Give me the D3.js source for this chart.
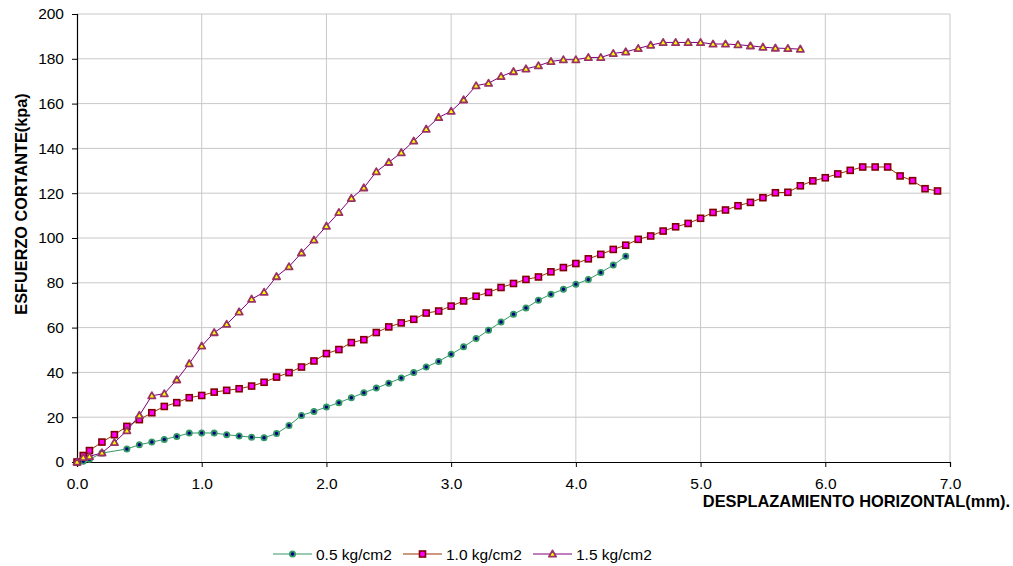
<!DOCTYPE html>
<html>
<head>
<meta charset="utf-8">
<script src="https://cdn.jsdelivr.net/npm/d3@7"></script>
<style>
  html, body { margin: 0; padding: 0; background: #fff; }
  svg { display: block; font-family: "Liberation Sans", Arial, sans-serif; }
</style>
</head>
<body>
<svg id="chart" width="1013" height="566"></svg>
<script>
// ---- data ----
const xTicks = [0, 1, 2, 3, 4, 5, 6, 7];
const yTicks = [0, 20, 40, 60, 80, 100, 120, 140, 160, 180, 200];
const seriesNames = ["0.5 kg/cm2", "1.0 kg/cm2", "1.5 kg/cm2"];

const x05 = [0, 0.05, 0.1, 0.2, 0.4, 0.5, 0.6, 0.7, 0.8, 0.9, 1.0, 1.1, 1.2, 1.3, 1.4, 1.5, 1.6, 1.7, 1.8, 1.9, 2.0, 2.1, 2.2, 2.3, 2.4, 2.5, 2.6, 2.7, 2.8, 2.9, 3.0, 3.1, 3.2, 3.3, 3.4, 3.5, 3.6, 3.7, 3.8, 3.9, 4.0, 4.1, 4.2, 4.3, 4.4];
const y05 = [0, 0.3, 1.2, 4.0, 5.8, 7.7, 8.9, 10.1, 11.4, 12.9, 13.0, 12.9, 12.2, 11.6, 11.1, 10.8, 12.7, 16.3, 20.8, 22.6, 24.5, 26.5, 28.7, 30.9, 33.0, 35.2, 37.5, 39.9, 42.4, 44.9, 48.1, 51.4, 55.1, 58.8, 62.5, 66.0, 68.8, 72.2, 74.9, 77.1, 79.4, 81.5, 84.6, 87.9, 91.9];

const x10 = [0, 0.05, 0.1, 0.2, 0.3, 0.4, 0.5, 0.6, 0.7, 0.8, 0.9, 1.0, 1.1, 1.2, 1.3, 1.4, 1.5, 1.6, 1.7, 1.8, 1.9, 2.0, 2.1, 2.2, 2.3, 2.4, 2.5, 2.6, 2.7, 2.8, 2.9, 3.0, 3.1, 3.2, 3.3, 3.4, 3.5, 3.6, 3.7, 3.8, 3.9, 4.0, 4.1, 4.2, 4.3, 4.4, 4.5, 4.6, 4.7, 4.8, 4.9, 5.0, 5.1, 5.2, 5.3, 5.4, 5.5, 5.6, 5.7, 5.8, 5.9, 6.0, 6.1, 6.2, 6.3, 6.4, 6.5, 6.6, 6.7, 6.8, 6.9];
const y10 = [0, 2.9, 5.1, 8.9, 12.2, 15.9, 18.9, 22.0, 24.8, 26.5, 28.7, 29.7, 31.2, 32.0, 32.7, 33.9, 35.6, 37.9, 39.9, 42.4, 45.1, 48.4, 50.2, 53.3, 54.6, 57.8, 60.3, 62.1, 63.7, 66.5, 67.4, 69.6, 71.9, 74.0, 75.7, 77.9, 79.7, 81.5, 82.6, 84.9, 86.8, 88.6, 90.7, 92.7, 94.9, 96.8, 99.4, 100.9, 103.1, 105.0, 106.5, 108.8, 111.4, 112.5, 114.4, 115.9, 118.0, 120.2, 120.4, 123.3, 125.5, 126.9, 128.6, 130.2, 131.7, 131.7, 131.7, 127.7, 125.6, 122.0, 121.0];

const x15 = [0, 0.05, 0.1, 0.2, 0.3, 0.4, 0.5, 0.6, 0.7, 0.8, 0.9, 1.0, 1.1, 1.2, 1.3, 1.4, 1.5, 1.6, 1.7, 1.8, 1.9, 2.0, 2.1, 2.2, 2.3, 2.4, 2.5, 2.6, 2.7, 2.8, 2.9, 3.0, 3.1, 3.2, 3.3, 3.4, 3.5, 3.6, 3.7, 3.8, 3.9, 4.0, 4.1, 4.2, 4.3, 4.4, 4.5, 4.6, 4.7, 4.8, 4.9, 5.0, 5.1, 5.2, 5.3, 5.4, 5.5, 5.6, 5.7, 5.8];
const y15 = [0, 2.0, 2.5, 4.1, 8.7, 14.0, 20.8, 29.6, 30.5, 36.7, 43.9, 51.8, 57.8, 61.5, 67.0, 72.7, 75.8, 82.8, 87.2, 93.4, 99.1, 105.3, 111.4, 117.7, 122.4, 129.6, 133.8, 138.1, 143.3, 148.6, 153.8, 156.6, 161.7, 168.0, 169.1, 172.1, 174.3, 175.5, 176.9, 178.8, 179.6, 179.6, 180.6, 180.6, 182.4, 183.1, 184.6, 186.1, 187.3, 187.3, 187.3, 187.3, 186.6, 186.6, 186.3, 185.8, 185.2, 184.8, 184.6, 184.3];

// ---- layout ----
const svg = d3.select("#chart");
const pLeft = 77, pRight = 950, pTop = 14, pBottom = 462;
const x = d3.scaleLinear().domain([0, 7]).range([pLeft, pRight]);
const y = d3.scaleLinear().domain([0, 200]).range([pBottom, pTop]);

const styles = [
  { line: "#339966", fill: "#000080", stroke: "#339966", shape: "circle" },
  { line: "#993300", fill: "#FF00FF", stroke: "#800000", shape: "square" },
  { line: "#800080", fill: "#FFFF00", stroke: "#993366", shape: "triangle" }
];

// gridlines
const grid = svg.append("g");
grid.selectAll("line.h").data(yTicks.filter(d => d > 0)).join("line")
  .attr("x1", pLeft).attr("x2", pRight)
  .attr("y1", d => y(d)).attr("y2", d => y(d))
  .attr("stroke", "#c8c8c8").attr("stroke-width", 1);
grid.selectAll("line.v").data(xTicks.filter(d => d > 0)).join("line")
  .attr("y1", pTop).attr("y2", pBottom)
  .attr("x1", d => x(d)).attr("x2", d => x(d))
  .attr("stroke", "#c8c8c8").attr("stroke-width", 1);

// axes
const yAxis = svg.append("g").attr("transform", `translate(${pLeft},0)`)
  .call(d3.axisLeft(y).tickValues(yTicks).tickSize(5).tickPadding(8).tickFormat(d3.format("d")));
const xAxis = svg.append("g").attr("transform", `translate(0,${pBottom})`)
  .call(d3.axisBottom(x).tickValues(xTicks).tickSize(5).tickPadding(11).tickFormat(d3.format(".1f")));
[yAxis, xAxis].forEach(a => {
  a.select(".domain").attr("stroke", "#000").attr("stroke-width", 1.2);
  a.selectAll(".tick line").attr("stroke", "#000");
  a.selectAll(".tick text").attr("font-size", 15.5).attr("fill", "#000")
    .attr("font-family", "'Liberation Sans', Arial, sans-serif");
});

// axis titles
svg.append("text")
  .attr("transform", "translate(27,204) rotate(-90)")
  .attr("text-anchor", "middle")
  .attr("font-size", 16.3).attr("font-weight", "bold")
  .text("ESFUERZO CORTANTE(kpa)");
svg.append("text")
  .attr("x", 1010).attr("y", 507)
  .attr("text-anchor", "end")
  .attr("font-size", 16.4).attr("font-weight", "bold")
  .text("DESPLAZAMIENTO HORIZONTAL(mm).");

// markers
function drawMarker(g, shape, st, cx, cy) {
  if (shape === "circle") {
    g.append("circle").attr("cx", cx).attr("cy", cy).attr("r", 2.6)
      .attr("fill", st.fill).attr("stroke", st.stroke).attr("stroke-width", 1.8);
  } else if (shape === "square") {
    g.append("rect").attr("x", cx - 3).attr("y", cy - 3).attr("width", 6).attr("height", 6)
      .attr("fill", st.fill).attr("stroke", st.stroke).attr("stroke-width", 1.6);
  } else {
    const s = 3.6;
    g.append("path")
      .attr("d", `M${cx},${cy - s}L${cx + s},${cy + s * 0.75}L${cx - s},${cy + s * 0.75}Z`)
      .attr("fill", st.fill).attr("stroke", st.stroke).attr("stroke-width", 1.8)
      .attr("stroke-linejoin", "round");
  }
}

const allSeries = [[x05, y05], [x10, y10], [x15, y15]];
const line = d3.line().x(d => x(d[0])).y(d => y(d[1]));
allSeries.forEach(([xs, ys], i) => {
  const pts = xs.map((v, k) => [v, ys[k]]);
  const g = svg.append("g");
  g.append("path").datum(pts).attr("d", line)
    .attr("fill", "none").attr("stroke", styles[i].line).attr("stroke-width", 1);
  pts.forEach(p => drawMarker(g, styles[i].shape, styles[i], x(p[0]), y(p[1])));
});

// legend
const legendY = 554;
const legendX = [273, 403, 533];
seriesNames.forEach((name, i) => {
  const g = svg.append("g");
  const lx = legendX[i];
  g.append("line").attr("x1", lx).attr("x2", lx + 39).attr("y1", legendY).attr("y2", legendY)
    .attr("stroke", styles[i].line).attr("stroke-width", 1);
  drawMarker(g, styles[i].shape, styles[i], lx + 19.5, legendY);
  g.append("text").attr("x", lx + 43).attr("y", legendY + 5.5)
    .attr("font-size", 15.5).attr("fill", "#000").text(name);
});
</script>
</body>
</html>
